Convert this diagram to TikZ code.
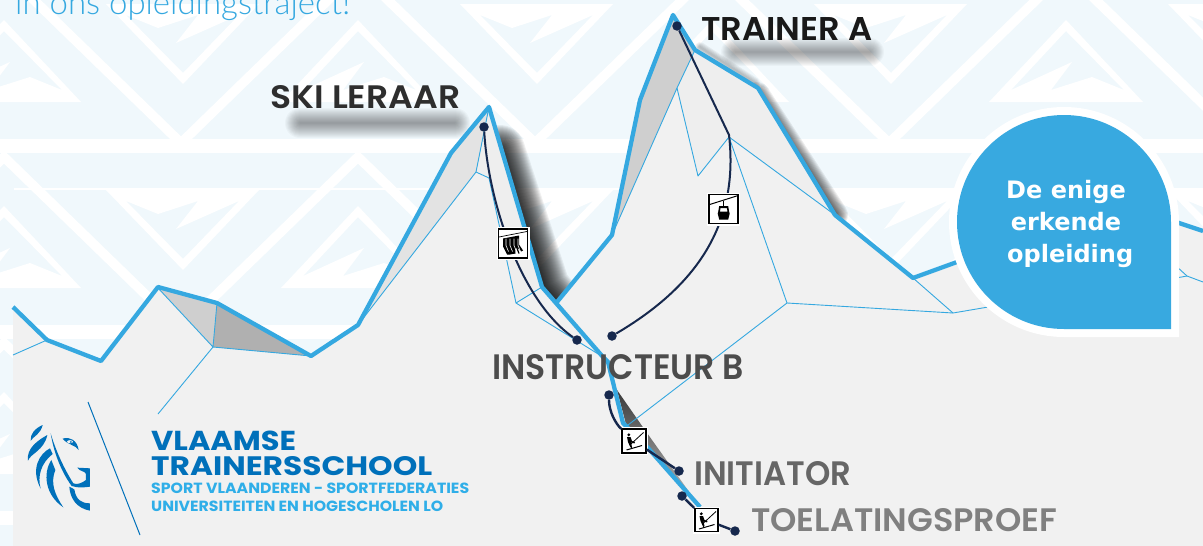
\documentclass[tikz,border=0pt]{standalone}
\usepackage{fontspec}
\setmainfont{Poppins}
\newfontfamily\mountfont{Poppins}[UprightFont=* SemiBold]
\newfontfamily\logofont{Poppins}[UprightFont=* Bold]
\newfontfamily\bubblefont{DejaVu Sans}[UprightFont=* Bold]
\newfontfamily\titlefont{Lato}[UprightFont=* Light]
\definecolor{bgblue}{HTML}{F0F8FC}
\definecolor{ridgeblue}{HTML}{35A8E0}
\definecolor{bubbleblue}{HTML}{38A9E0}
\definecolor{hill}{HTML}{F1F1F1}
\definecolor{navy}{HTML}{16284D}
\definecolor{logoblue}{HTML}{0070BA}
\definecolor{logolight}{HTML}{2FAEE8}
\newcommand{\fittext}[3]{\resizebox{#1pt}{#2pt}{#3}}
\tikzset{
  x=1pt,y=-1pt,
  ridge/.style={draw=ridgeblue,line width=4.3pt,line join=round},
  facetline/.style={draw=ridgeblue,line width=.9pt,line join=round},
  connector/.style={draw=navy,line width=2pt},
  dotnode/.style={circle,fill=navy,inner sep=0pt,minimum size=9.5pt},
  liftbox/.style={rectangle,fill=white,draw=black,line width=1.6pt,inner sep=0pt,
     preaction={draw=white,line width=4pt}},
  label/.style={inner sep=0pt,anchor=base west},
}
\newcommand{\dragicon}[1]{%
  \begin{scope}[shift={(#1)}]
    \draw[black,line width=.8pt] (-3,3) -- (9.5,-8.5);
    \fill[black] (-5.2,-6.2) circle[radius=1.6];
    \fill[black] (-7,-4) -- (-3.5,-4) -- (-2,0) -- (1,1) -- (0.5,2.4) -- (-3,1.5) -- (-2,6) -- (-3.6,6.4) -- (-6,1) -- cycle;
    \draw[black,line width=1pt] (-7.5,9) -- (8,4.5);
    \draw[black,line width=.8pt] (-3,6) -- (-3,8);
  \end{scope}}
\newcommand{\gondolaicon}[1]{%
  \begin{scope}[shift={(#1)}]
    \draw[black,line width=1pt] (-14,-4.5) -- (14.5,-13.5);
    \draw[black,line width=1.2pt] (0,-8) -- (0,-3);
    \fill[black,even odd rule] (-4.5,-3) -- (4.5,-3) -- (5.5,3) -- (6,4.5) -- (4.5,10.5) -- (-4.5,10.5) -- (-6,4.5) -- (-5.5,3) -- cycle
       (-3.2,-1) -- (3.2,-1) -- (3.8,2.6) -- (-3.8,2.6) -- cycle;
  \end{scope}}
\newcommand{\chairicon}[1]{%
  \begin{scope}[shift={(#1)}]
    \draw[black,line width=.7pt] (-14,-6.5) -- (14,-12);
    \fill[black] (-10,-5) -- (6,-8) -- (6,1) -- (10,7) -- (8,8) -- (3,3) -- (2,10) -- (-3,11) -- (-6,11) -- (-10,3) -- cycle;
    \foreach \dx in {-7,-3,1,5}{
      \draw[white,line width=.6pt] (\dx,-5) -- (\dx,2) -- (\dx+2.5,8);
    }
    \foreach \dx in {-5,-1,3}{
      \draw[black,line width=1.2pt] (\dx,2) -- (\dx+3,10);
    }
  \end{scope}}
\begin{document}
\begin{tikzpicture}
\useasboundingbox (0,0) rectangle (1203,546);
\clip (0,0) rectangle (1203,546);
\fill[bgblue] (0,0) rectangle (1203,546);
% background pattern
\foreach \row in {0,186,372}{
  \begin{scope}
    \clip (0,\row-33) rectangle (1203,\row+139);
    \draw[white,line width=9.5pt,miter limit=10]
      (-173,\row+139-172+4) \foreach \k in {0,1,2,3,4}{ -- (4+354*\k-177-0,\row+139+4) -- (4+354*\k,\row-33+4) } -- (1243,\row+143);
  \end{scope}
  \foreach \vx in {183,537,891,1245}{
    \fill[white,even odd rule]
      (\vx-77,\row+4) -- (\vx+76,\row+4) -- (\vx,\row+84) -- cycle
      (\vx-57,\row+15) -- (\vx-25,\row+28) -- (\vx+15,\row+15) -- (\vx-7,\row+43) -- (\vx+56,\row+15) -- (\vx,\row+73) -- cycle;
  }
  \foreach \ax in {4,358,712,1066}{
    \fill[white,even odd rule]
      (\ax,\row+20) -- (\ax+77,\row+102) -- (\ax-77,\row+102) -- cycle
      (\ax-55,\row+90) -- (\ax+6,\row+62) -- (\ax-15,\row+90) -- (\ax+26,\row+77) -- (\ax+58,\row+90) -- (\ax,\row+31) -- cycle;
  }
  \fill[white] (0,\row+139) rectangle (1203,\row+153);
}
\fill[white] (14,187.5) rectangle (1203,190);
% title
\node[label,text=ridgeblue] (title) at (15,14) {\resizebox{335pt}{!}{\titlefont in ons opleidingstraject!}};
% ridge shadows
\foreach \w in {2,4,...,50}{
  \draw[black,opacity=.06,line width=\w pt,line join=round,line cap=round] (500,150) -- (545,287) -- (557,302);
}
\foreach \w in {2,4,...,26}{
  \draw[black,opacity=.07,line width=\w pt,line join=round,line cap=round] (757,95) -- (835,215);
}
\foreach \w in {2,4,...,10}{
  \draw[black,opacity=.05,line width=\w pt,line cap=round] (700,47) -- (755,83);
}
% text shadows
\foreach \w in {2,4,...,30}{
  \draw[black,opacity=.028,line width=\w pt,line cap=round] (300,123) -- (455,123);
}
\foreach \w in {2,4,...,28}{
  \draw[black,opacity=.028,line width=\w pt,line cap=round] (735,52) -- (870,52);
}
% mountain body
\fill[hill] (13,307) -- (47,340) -- (101,361) -- (158,287) -- (217,303) -- (311,356) -- (358,325) -- (451,153) -- (489,107) -- (542,287) -- (557,302) -- (612,235) -- (640,100) -- (673,15) -- (695,50) -- (758,88) -- (835,215) -- (913,278) -- (957,262) -- (1000,247) -- (1150,215) -- (1178,223) -- (1203,231) -- (1203,546) -- (13,546) -- cycle;
% facets
\fill[black!19] (158,288) -- (217,303) -- (213,347) -- cycle;
\fill[black!31] (217,303) -- (311,356) -- (213,347) -- cycle;
\fill[black!11] (358,325) -- (451,153) -- (489,107) -- (476,172) -- cycle;
\fill[black!6.5] (489,107) -- (542,287) -- (516,303) -- (489,178) -- (476,172) -- cycle;
\fill[black!19] (673,15) -- (695,50) -- (677,88) -- (612,235) -- (640,100) -- cycle;
\fill[black!6.5] (695,50) -- (758,88) -- (835,215) -- (729,137) -- (698,176) -- (677,88) -- cycle;
\shade[top color=black!78,bottom color=black!28,middle color=black!50] (617,390) -- (647,433) -- (700,507) -- (648,448) -- (627,428) -- cycle;
% thin facet lines
\draw[facetline] (13,355) -- (47,340);
\draw[facetline] (158,288) -- (213,347) -- (217,303);
\draw[facetline] (311,356) -- (213,347) -- (158,414);
\draw[facetline] (489,107) -- (476,172) -- (358,325);
\draw[facetline] (476,172) -- (489,178) -- (516,303) -- (542,287);
\draw[facetline] (516,303) -- (603,357);
\draw[facetline] (695,50) -- (677,88) -- (612,235);
\draw[facetline] (677,88) -- (698,176) -- (729,137) -- (835,215);
\draw[facetline] (729,137) -- (787,303) -- (953,313) -- (1000,305);
\draw[facetline] (787,303) -- (628,425);
\draw[facetline] (913,278) -- (953,313);
\draw[facetline] (1176,266) -- (1187,276) -- (1203,282);
\draw[facetline] (1187,276) -- (1176,278);
% ridges
\draw[ridge] (13,307) -- (47,340) -- (101,361) -- (158,287) -- (217,303) -- (311,356) -- (358,325) -- (451,153) -- (489,107) -- (542,287) -- (603,357) -- (608,362) -- (623,423) -- (648,448) -- (700,507);
\draw[ridge] (557,302) -- (612,235) -- (640,100) -- (673,15) -- (695,50) -- (758,88) -- (835,215) -- (913,278) -- (957,262);
\draw[ridge] (1176,222) -- (1203,231);
% dots and connectors
\node[dotnode] (skitop) at (484,127) {};
\node[dotnode] (skibase) at (577,340) {};
\node[dotnode] (trainertop) at (677,26) {};
\coordinate (pylon) at (729,135);
\node[dotnode] (gondbase) at (612,336) {};
\node[dotnode] (initop) at (609,395) {};
\node[dotnode] (inibase) at (679,471) {};
\node[dotnode] (toetop) at (682,496) {};
\node[dotnode] (toebase) at (735,531) {};
\draw[connector] (skitop) .. controls (488,200) and (520,300) .. (skibase);
\draw[connector] (trainertop) -- (pylon) .. controls (740,230) and (690,290) .. (gondbase);
% lift icons
\node[liftbox,minimum size=29pt] (chair) at (513,243.5) {};
\chairicon{chair.center}
\node[liftbox,minimum size=29pt] (gondola) at (723.7,209) {};
\gondolaicon{gondola.center}
\node[liftbox,minimum size=24pt] (drag1) at (634,441) {};
\dragicon{drag1.center}
\node[liftbox,minimum size=23pt] (drag2) at (706.5,520) {};
\dragicon{drag2.center}
\draw[connector,line width=2.4pt] (initop) .. controls (609,412) and (616,424) .. (drag1);
\draw[connector,line width=2.4pt] (drag1) -- (inibase);
\draw[connector,line width=2.4pt] (toetop) -- (drag2);
\draw[connector,line width=2.4pt] (drag2) -- (toebase);
% labels
\node[label,text=black!82] (lblski) at (270,108) {\fittext{190}{23}{\mountfont SKI LERAAR}};
\node[label,text=black!90] (lbltrainer) at (701,40) {\fittext{171}{23}{\mountfont TRAINER A}};
\node[label,text=black!70] (lblinstr) at (492,379) {\fittext{252}{25}{\mountfont INSTRUCTEUR B}};
\node[label,text=black!60] (lblinit) at (694,485) {\fittext{157}{24}{\mountfont INITIATOR}};
\node[label,text=black!50] (lbltoe) at (751,531) {\fittext{306}{23}{\mountfont TOELATINGSPROEF}};
% bubble
\path[draw=white,line width=16pt,miter limit=10,fill=white] (1171,329) -- (1064,329) .. controls (1005,329) and (957,281) .. (957,222) .. controls (957,163) and (1005,115) .. (1064,115) .. controls (1123,115) and (1171,163) .. (1171,222) -- cycle;
\fill[bubbleblue] (1171,329) -- (1064,329) .. controls (1005,329) and (957,281) .. (957,222) .. controls (957,163) and (1005,115) .. (1064,115) .. controls (1123,115) and (1171,163) .. (1171,222) -- cycle;
\node[text=white,align=center,inner sep=0pt,font=\bubblefont\fontsize{24}{32}\selectfont] (bubbletext) at (1066,224) {De enige\\erkende\\\ opleiding};
% logo
\draw[draw=logoblue,line width=1pt] (88,402) -- (140,535);
\begin{scope}[xshift=20pt,yshift=-420pt,x=.3333pt,y=-.3333pt]
  \fill[logoblue] (68,15) .. controls (45,25) and (30,42) .. (32,62) .. controls (42,48) and (62,42) .. cycle;
  \fill[logoblue] (82,45) .. controls (55,60) and (18,85) .. (24,122) .. controls (32,100) and (72,92) .. cycle;
  \fill[logoblue] (90,85) .. controls (60,100) and (30,145) .. (62,206) .. controls (52,170) and (62,130) .. (98,102) -- cycle;
  \fill[logoblue] (94,120) .. controls (68,160) and (75,225) .. (130,262) .. controls (105,225) and (90,190) .. (106,150) -- cycle;
  \fill[logoblue] (92,40) .. controls (100,90) and (120,150) .. (155,198) .. controls (175,205) and (195,202) .. (210,200) -- (210,145) -- (172,143) .. controls (178,155) and (195,152) .. (198,162) -- (198,180) .. controls (185,190) and (170,195) .. (160,190) .. controls (135,150) and (110,100) .. cycle;
  \fill[logoblue] (148,200) .. controls (150,235) and (170,265) .. (210,272) -- (210,250) .. controls (185,250) and (168,240) .. (163,208) -- cycle;
  \fill[logoblue] (128,56) .. controls (150,48) and (172,62) .. (176,90) .. controls (166,74) and (144,76) .. cycle;
  \fill[hill] (150,65) ellipse[x radius=9,y radius=4.5];
  \fill[logoblue] (153,66) circle[radius=3];
\end{scope}
\node[label,text=logoblue] (lblvl) at (151,450) {\fittext{145}{19.5}{\logofont VLAAMSE}};
\node[label,text=logoblue] (lbltr) at (151,475) {\fittext{281}{19}{\logofont TRAINERSSCHOOL}};
\node[label,text=logolight] (lblsp) at (151,493) {\fittext{318}{10.5}{\logofont SPORT VLAANDEREN - SPORTFEDERATIES}};
\node[label,text=logolight] (lbluni) at (151,511) {\fittext{292}{10.5}{\logofont UNIVERSITEITEN EN HOGESCHOLEN LO}};
\end{tikzpicture}
\end{document}
